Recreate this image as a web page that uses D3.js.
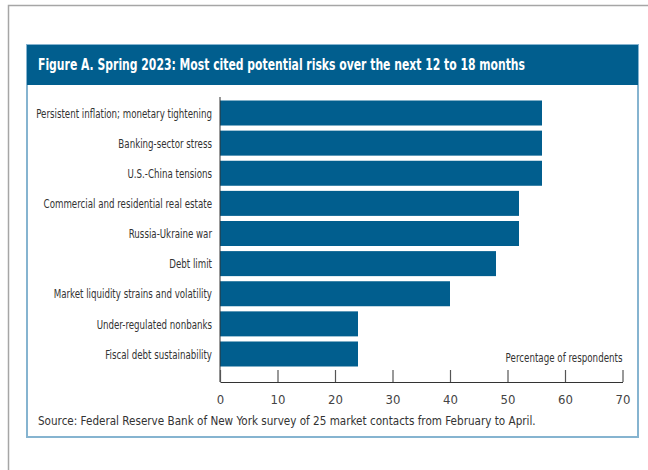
<!DOCTYPE html>
<html>
<head>
<meta charset="utf-8">
<script src="https://cdn.jsdelivr.net/npm/d3@7"></script>
<style>
  body { margin: 0; background: #fff; }
  svg { display: block; }
  text { font-family: "Liberation Sans Narrow", "DejaVu Sans Condensed", "Roboto Condensed", sans-serif; }
</style>
</head>
<body>
<svg id="chart"></svg>
<script>
// data (share of 25 contacts, %)
var categories = [
  "Persistent inflation; monetary tightening",
  "Banking-sector stress",
  "U.S.-China tensions",
  "Commercial and residential real estate",
  "Russia-Ukraine war",
  "Debt limit",
  "Market liquidity strains and volatility",
  "Under-regulated nonbanks",
  "Fiscal debt sustainability"
];
var values = [56, 56, 56, 52, 52, 48, 40, 24, 24];
var xTicks = [0, 10, 20, 30, 40, 50, 60, 70];

var titleText = "Figure A. Spring 2023: Most cited potential risks over the next 12 to 18 months";
var sourceText = "Source: Federal Reserve Bank of New York survey of 25 market contacts from February to April.";
var axisTitle = "Percentage of respondents";

// squeeze a text horizontally around its anchor so it spans `target` px
function squeeze(sel, ax, target) {
  sel.each(function() {
    var w = this.getComputedTextLength();
    var k = w > 0 ? target / w : 1;
    d3.select(this).attr("transform", "translate(" + ax + ",0) scale(" + k + ",1) translate(" + (-ax) + ",0)");
  });
}

function draw() {
  var W = 648, H = 470;
  var blue = "#015e8e";
  var fontStack = "'Liberation Sans Narrow', 'DejaVu Sans Condensed', sans-serif";

  var svg = d3.select("#chart").attr("width", W).attr("height", H);

  // outer grey frame (only top/left show)
  svg.append("rect")
    .attr("x", 8.5).attr("y", 5.5)
    .attr("width", 700).attr("height", 500)
    .attr("fill", "none").attr("stroke", "#a6a6a6").attr("stroke-width", 1.5);

  // figure box
  var box = {x: 27, y: 45, w: 611, h: 392};
  svg.append("rect")
    .attr("x", box.x).attr("y", box.y)
    .attr("width", box.w).attr("height", box.h)
    .attr("fill", "#fff").attr("stroke", "#86b4d0").attr("stroke-width", 2);

  // title bar
  svg.append("rect")
    .attr("x", box.x).attr("y", box.y)
    .attr("width", box.w).attr("height", 40)
    .attr("fill", blue);

  svg.append("text")
    .attr("x", 38).attr("y", 70)
    .attr("fill", "#fff")
    .style("font-size", "15px").style("font-weight", "bold")
    .attr("textLength", 487).attr("lengthAdjust", "spacingAndGlyphs")
    .text(titleText);

  // plot area
  var pl = 220, pr = 622.5, pt = 97, pb = 382;

  var x = d3.scaleLinear().domain([0, 70]).range([pl, pr]);
  var y = d3.scaleBand().domain(categories).range([pt + 2, pb - 14]).paddingInner(0.17).paddingOuter(0.05);

  svg.append("g").selectAll("rect")
    .data(values)
    .enter()
    .append("rect")
    .attr("x", x(0))
    .attr("y", function(d, i) { return y(categories[i]); })
    .attr("width", function(d) { return x(d) - x(0); })
    .attr("height", y.bandwidth())
    .attr("fill", blue);

  // category labels
  var lx = 212;
  var labels = svg.append("g").selectAll("text")
    .data(categories)
    .enter()
    .append("text")
    .attr("x", lx)
    .attr("y", function(d) { return y(d) + y.bandwidth() / 2; })
    .attr("dy", "0.36em")
    .attr("text-anchor", "end")
    .attr("fill", "#333")
    .style("font-size", "13px")
    .text(function(d) { return d; });

  // same condense factor for all labels, taken from the longest one
  var w0 = labels.nodes()[0].getComputedTextLength();
  var k = w0 > 0 ? 176 / w0 : 1;
  labels.attr("transform", "translate(" + lx + ",0) scale(" + k + ",1) translate(" + (-lx) + ",0)");

  // vertical axis line
  svg.append("line")
    .attr("x1", pl).attr("x2", pl)
    .attr("y1", pt).attr("y2", pb)
    .attr("stroke", "#333").attr("stroke-width", 1);

  // bottom axis with upward ticks
  var xAxis = d3.axisBottom(x).tickValues(xTicks).tickSizeInner(-12).tickSizeOuter(0).tickPadding(13);
  var gx = svg.append("g")
    .attr("transform", "translate(0," + pb + ")")
    .call(xAxis);
  gx.attr("font-family", null);
  gx.select(".domain").attr("stroke", "#333").attr("stroke-width", 1.2);
  gx.selectAll(".tick line").attr("stroke", "#555").attr("stroke-width", 1.2);
  gx.selectAll(".tick text")
    .attr("fill", "#444")
    .style("font-size", "13px")
    .style("font-family", fontStack);

  svg.append("text")
    .attr("x", pr).attr("y", 362)
    .attr("text-anchor", "end")
    .attr("fill", "#333")
    .style("font-size", "12.5px")
    .text(axisTitle)
    .call(squeeze, pr, 117);

  svg.append("text")
    .attr("x", 38).attr("y", 425)
    .attr("fill", "#333")
    .style("font-size", "13px")
    .text(sourceText)
    .call(squeeze, 38, 498);
}
draw();
</script>
</body>
</html>
